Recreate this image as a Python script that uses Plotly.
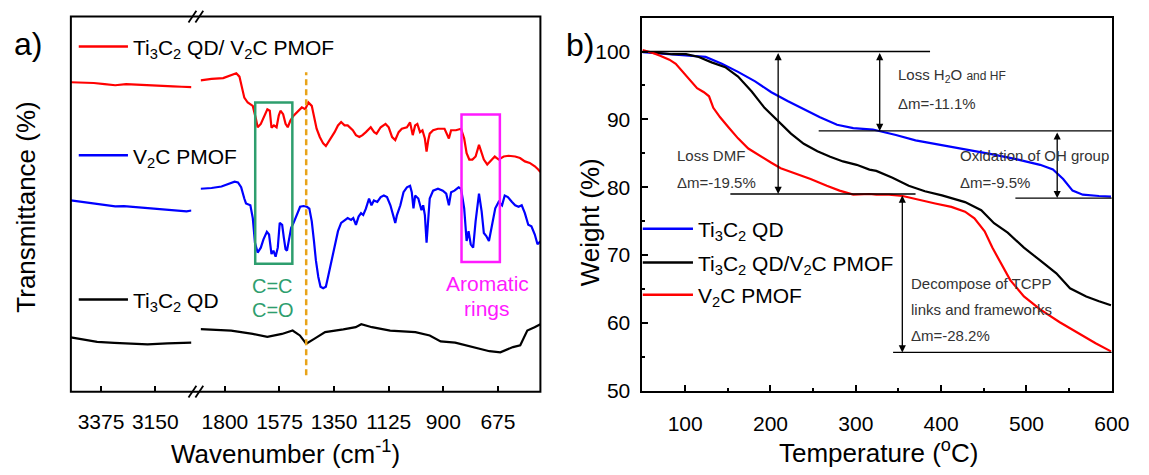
import plotly.graph_objects as go

W_PX, H_PX = 1149, 475
FONT = "Arial, 'Liberation Sans', sans-serif"

# ---------------- Panel a: FTIR (arbitrary transmittance units) ----------------
red_wn_l = [3500, 3450, 3405, 3360, 3316, 3271, 3220, 3152, 3110, 3077, 3040, 3000]
red_t_l = [82.5, 82.4, 82.3, 82.0, 81.7, 82.0, 81.8, 81.7, 81.5, 81.4, 81.3, 81.2]
red_wn_r = [1900, 1855, 1807, 1773, 1753, 1740, 1733, 1720, 1706, 1685, 1672, 1665, 1652, 1638, 1625, 1615,
            1608, 1598, 1587, 1578, 1571, 1560, 1550, 1541, 1530, 1517, 1503, 1483, 1469, 1456, 1442, 1433,
            1422, 1409, 1395, 1384, 1368, 1348, 1334, 1321, 1307, 1294, 1273, 1260, 1246, 1233, 1219, 1206,
            1199, 1185, 1175, 1158, 1138, 1125, 1111, 1098, 1084, 1071, 1050, 1037, 1026, 1016, 1007, 996,
            986, 976, 969, 962, 956, 942, 922, 895, 877, 868, 848, 827, 814, 804, 793, 780, 767, 753, 742,
            733, 719, 706, 688, 672, 651, 631, 604, 584, 564, 544, 523, 510, 500]
red_t_r = [83.0, 83.4, 83.6, 84.4, 84.9, 84.0, 81.8, 78.4, 77.1, 76.2, 72.7, 70.5, 71.4, 73.6, 75.3, 74.9,
           70.4, 71.0, 70.5, 73.6, 74.9, 74.0, 71.4, 70.5, 72.3, 73.6, 74.5, 75.8, 75.3, 77.1, 76.2, 73.1,
           70.1, 67.9, 66.2, 65.5, 67.1, 69.2, 71.0, 71.9, 71.0, 71.0, 69.7, 68.4, 67.9, 68.4, 69.2, 70.1,
           70.5, 69.2, 68.8, 70.5, 71.4, 70.5, 67.9, 67.1, 69.2, 70.1, 70.5, 71.8, 68.4, 71.0, 71.4, 69.2,
           69.7, 67.5, 64.0, 67.1, 68.8, 69.7, 70.1, 70.1, 67.5, 69.7, 69.7, 70.1, 67.5, 63.6, 61.9, 61.9,
           62.7, 65.8, 63.6, 61.9, 60.6, 61.4, 62.7, 61.9, 62.7, 62.9, 62.7, 62.3, 61.4, 61.0, 60.1, 59.3, 58.6]

blue_wn_l = [3500, 3450, 3400, 3350, 3316, 3280, 3230, 3180, 3120, 3060, 3020, 3000]
blue_t_l = [51.0, 50.6, 50.2, 49.6, 49.4, 49.5, 49.2, 48.9, 48.6, 48.2, 48.1, 48.3]
blue_wn_r = [1900, 1855, 1814, 1787, 1760, 1746, 1733, 1720, 1713, 1695,
             1685, 1676, 1665, 1652, 1641, 1627, 1618, 1608, 1600, 1591,
             1582, 1574, 1564, 1557, 1550, 1544, 1537, 1527, 1517, 1503,
             1490, 1476, 1462, 1452, 1442, 1433, 1425, 1415, 1406, 1395,
             1384, 1375, 1361, 1348, 1334, 1321, 1307, 1294, 1280, 1271,
             1260, 1249, 1239, 1230, 1219, 1206, 1196, 1186, 1172, 1158,
             1145, 1132, 1118, 1104, 1098, 1091, 1077, 1064, 1050, 1037,
             1030, 1023, 1016, 1003, 990, 983, 976, 969, 962, 956,
             942, 922, 902, 888, 877, 868, 854, 837, 827, 814,
             804, 796, 787, 777, 767, 753, 742, 733, 723, 712,
             699, 686, 672, 658, 647, 634, 617, 604, 590, 577,
             564, 550, 537, 523, 512, 500]
blue_t_r = [54.1, 54.3, 54.7, 55.4, 56.0, 55.8, 54.5, 51.5, 50.2, 49.7,
            46.3, 39.7, 37.1, 38.4, 40.6, 42.6, 41.9, 36.7, 37.6, 36.0,
            38.4, 45.0, 44.5, 41.0, 38.0, 37.6, 40.2, 43.7, 45.0, 47.1,
            49.3, 49.5, 49.3, 48.8, 45.4, 40.2, 35.0, 30.6, 28.0, 27.6,
            28.0, 30.6, 35.0, 38.4, 42.8, 45.0, 45.8, 46.3, 45.8, 46.3,
            44.5, 46.7, 47.6, 47.1, 48.8, 51.5, 49.7, 51.0, 50.6, 51.9,
            52.3, 51.9, 49.7, 45.8, 45.0, 47.1, 49.7, 53.2, 54.5, 54.9,
            53.2, 48.9, 52.3, 51.5, 48.4, 49.7, 47.1, 39.7, 47.1, 51.5,
            53.6, 54.1, 53.6, 52.8, 49.7, 53.2, 53.6, 54.5, 54.1, 48.9,
            40.2, 42.8, 39.3, 38.4, 45.4, 52.8, 48.0, 42.3, 41.5, 40.2,
            44.5, 48.9, 50.6, 49.7, 52.3, 51.9, 50.6, 49.7, 49.3, 49.7,
            47.6, 44.5, 44.1, 41.9, 39.3, 40.1]

black_wn_l = [3500, 3450, 3391, 3320, 3250, 3182, 3100, 3040, 3000]
black_t_l = [14.5, 13.9, 13.3, 13.0, 12.8, 12.6, 12.9, 13.1, 13.1]
black_wn_r = [1900, 1774, 1685, 1625, 1565, 1521, 1491, 1465, 1432, 1387, 1312, 1261, 1238, 1194, 1119,
              1015, 956, 911, 851, 777, 710, 665, 613, 583, 554, 524, 500]
black_t_r = [16.7, 16.3, 15.4, 14.6, 15.4, 16.3, 15.0, 12.8, 14.1, 15.9, 16.6, 17.2, 18.0, 17.2, 16.3,
             15.9, 15.0, 13.4, 13.1, 11.9, 10.8, 10.5, 11.9, 12.4, 16.3, 17.2, 18.0]

ftir_ticks_l = [3375, 3150]
ftir_ticks_r = [1800, 1575, 1350, 1125, 900, 675]

# ---------------- Panel b: TGA ----------------
tga_blue_T = [50, 85, 108, 124, 143, 162, 182, 201, 220, 239, 258, 278, 297, 320, 347, 370, 401, 431, 462,
              489, 516, 531, 543, 554, 566, 585, 599]
tga_blue_W = [99.9, 99.6, 99.4, 99.2, 98.2, 97.0, 95.6, 94.0, 92.7, 91.5, 90.3, 89.2, 88.7, 88.5, 87.7, 86.9,
              86.2, 85.5, 84.8, 84.1, 83.3, 82.6, 81.2, 79.5, 78.9, 78.7, 78.6]
tga_black_T = [50, 70, 85, 101, 116, 131, 147, 162, 178, 193, 208, 224, 239, 255, 270, 285, 301, 316, 324,
               343, 362, 381, 401, 428, 447, 462, 478, 497, 516, 535, 551, 570, 585, 599]
tga_black_W = [100.0, 99.8, 99.6, 99.6, 99.2, 98.4, 97.7, 96.3, 94.1, 91.7, 89.8, 87.9, 86.4, 85.3, 84.5,
               83.8, 83.3, 82.6, 82.4, 81.4, 80.2, 79.4, 78.8, 77.8, 76.6, 74.7, 73.3, 71.1, 69.2, 67.3,
               65.1, 63.9, 63.2, 62.6]
tga_red_T = [50, 62, 70, 81.5, 89, 97, 105, 114, 122, 128, 133, 141, 151, 162, 174, 185, 201, 212, 228, 247,
             266, 281, 297, 316, 324, 339, 355, 374, 393, 412, 428, 439, 451, 460, 470, 481, 497, 516, 539,
             562, 581, 599]
tga_red_W = [100.2, 99.8, 99.4, 98.8, 98.2, 97.0, 95.8, 94.6, 94.0, 93.4, 91.7, 90.3, 88.8, 87.2, 85.7, 84.8,
             83.6, 82.8, 82.1, 81.2, 80.2, 79.5, 78.9, 79.0, 78.9, 78.9, 78.7, 78.1, 77.6, 77.1, 76.4, 75.4,
             73.5, 71.1, 68.7, 66.3, 63.9, 62.0, 60.1, 58.4, 57.0, 55.8]

# step levels (weight %) and the temperatures of the guide arrows
lvl_top, lvl_dmf, lvl_oh, lvl_blue_end, lvl_red_end = 100.0, 79.0, 88.3, 78.4, 55.65
arrow_T = {"dmf": 209, "h2o": 328, "oh": 536, "tcpp": 354.5}


def fx(x):
    return x / W_PX


def fy(y):
    return 1 - y / H_PX


fig = go.Figure()

LW = 2.2
for wn, t, col, xa in [(red_wn_l, red_t_l, "#ff0000", "x"), (red_wn_r, red_t_r, "#ff0000", "x2"),
                       (blue_wn_l, blue_t_l, "#0000ff", "x"), (blue_wn_r, blue_t_r, "#0000ff", "x2"),
                       (black_wn_l, black_t_l, "#000000", "x"), (black_wn_r, black_t_r, "#000000", "x2")]:
    fig.add_trace(go.Scatter(x=wn, y=t, mode="lines", xaxis=xa, yaxis="y",
                             line=dict(color=col, width=LW), showlegend=False, hoverinfo="skip"))

for T, Wt, col in [(tga_blue_T, tga_blue_W, "#0000ff"), (tga_black_T, tga_black_W, "#000000"),
                   (tga_red_T, tga_red_W, "#ff0000")]:
    fig.add_trace(go.Scatter(x=T, y=Wt, mode="lines", xaxis="x3", yaxis="y3",
                             line=dict(color=col, width=LW), showlegend=False, hoverinfo="skip"))

tickfont = dict(family=FONT, size=21, color="#000")
common_x = dict(showgrid=False, zeroline=False, ticks="inside", ticklen=6, tickwidth=2,
                tickcolor="#000", tickfont=tickfont, fixedrange=True)

shapes = []
annotations = []


def paper_text(txt, x, y, size, angle=0, xanchor="center", color="#000"):
    return dict(text=txt, x=fx(x), y=fy(y), xref="paper", yref="paper", showarrow=False,
                xanchor=xanchor, yanchor="middle", textangle=angle,
                font=dict(family=FONT, size=size, color=color))


# ---- panel a frame, break marks ----
a_l, a_r, a_t, a_b = 72, 549, 17, 401
shapes.append(dict(type="rect", xref="paper", yref="paper", x0=fx(a_l), x1=fx(a_r), y0=fy(a_b), y1=fy(a_t),
                   line=dict(color="#000", width=2)))
for yb in (a_t, a_b):
    for dx in (0, 7):
        shapes.append(dict(type="line", xref="paper", yref="paper",
                           x0=fx(191.5 + dx), y0=fy(yb + 6), x1=fx(199.5 + dx), y1=fy(yb - 6),
                           line=dict(color="#000", width=1.8)))

# highlight boxes and dashed line (data coords of right segment)
shapes.append(dict(type="rect", xref="x2", yref="y", x0=1675, x1=1522, y0=34.1, y1=77.1,
                   line=dict(color="#2e9e6e", width=2.5)))
shapes.append(dict(type="rect", xref="x2", yref="y", x0=825, x1=667, y0=34.6, y1=73.9,
                   line=dict(color="#ff1aff", width=2.5)))
shapes.append(dict(type="line", xref="x2", yref="y", x0=1465, x1=1465, y0=4.4, y1=85.2,
                   line=dict(color="#e8a317", width=2.5, dash="6px,4px")))

for txt, xv, yv, col, sz in [("C=C", 1603, 28.1, "#2e9e6e", 20), ("C=O", 1603, 21.9, "#2e9e6e", 20),
                             ("Aromatic", 719, 28.9, "#ff1aff", 21), ("rings", 719, 22.1, "#ff1aff", 21)]:
    annotations.append(dict(text=txt, x=xv, y=yv, xref="x2", yref="y", showarrow=False,
                            xanchor="center", yanchor="middle", font=dict(family=FONT, size=sz, color=col)))

# panel a legend-like labels
for ypix, col, txt in [(47.7, "#ff0000", "Ti<sub>3</sub>C<sub>2</sub> QD/ V<sub>2</sub>C PMOF"),
                       (159, "#0000ff", "V<sub>2</sub>C PMOF"),
                       (306.7, "#000000", "Ti<sub>3</sub>C<sub>2</sub> QD")]:
    shapes.append(dict(type="line", xref="paper", yref="paper", x0=fx(80), x1=fx(130), y0=fy(ypix),
                       y1=fy(ypix), line=dict(color=col, width=2.5)))
    annotations.append(paper_text(txt, 133, ypix + 2.5, 21, xanchor="left"))

# panel b legend
for ypix, col, txt in [(234.3, "#0000ff", "Ti<sub>3</sub>C<sub>2</sub> QD"),
                       (268.7, "#000000", "Ti<sub>3</sub>C<sub>2</sub> QD/V<sub>2</sub>C PMOF"),
                       (301.7, "#ff0000", "V<sub>2</sub>C PMOF")]:
    shapes.append(dict(type="line", xref="paper", yref="paper", x0=fx(653), x1=fx(704), y0=fy(ypix),
                       y1=fy(ypix), line=dict(color=col, width=2.5)))
    annotations.append(paper_text(txt, 707, ypix + 2.5, 21, xanchor="left"))

# panel b guide lines
for x0, x1, yv in [(50, 387, lvl_top), (153, 370, lvl_dmf), (256.5, 600, lvl_oh),
                   (487, 600, lvl_blue_end), (343.7, 600, lvl_red_end)]:
    shapes.append(dict(type="line", xref="x3", yref="y3", x0=x0, x1=x1, y0=yv, y1=yv,
                       line=dict(color="#000", width=1.3)))

for T, y_from, y_to in [(arrow_T["dmf"], lvl_top, lvl_dmf), (arrow_T["h2o"], lvl_top, lvl_oh),
                        (arrow_T["oh"], lvl_oh, lvl_blue_end), (arrow_T["tcpp"], lvl_dmf, lvl_red_end)]:
    annotations.append(dict(text="", x=T, y=y_to, ax=T, ay=y_from, xref="x3", yref="y3", axref="x3",
                            ayref="y3", showarrow=True, arrowhead=2, startarrowhead=2,
                            arrowside="end+start", arrowsize=1.1, startarrowsize=1.1,
                            arrowwidth=1.3, arrowcolor="#000", standoff=0, startstandoff=0))

tga_font = dict(family=FONT, size=15, color="#333")
for txt, T, Wv in [("Loss H<sub>2</sub>O <span style='font-size:12px'>and HF</span>", 347.6, 96.5),
                   ("Δm=-11.1%", 347.6, 92.4),
                   ("Loss DMF", 88.4, 84.6), ("Δm=-19.5%", 88.4, 80.7),
                   ("Oxidation of OH group", 419.8, 84.6), ("Δm=-9.5%", 419.8, 80.7),
                   ("Decompose of TCPP", 362.1, 65.8), ("links and frameworks", 362.1, 62.0),
                   ("Δm=-28.2%", 362.1, 58.1)]:
    annotations.append(dict(text=txt, x=T, y=Wv, xref="x3", yref="y3", xanchor="left", yanchor="middle",
                            showarrow=False, font=tga_font))

# titles and panel labels
annotations += [
    paper_text("a)", 28, 45, 32),
    paper_text("b)", 589, 46, 32),
    paper_text("Transmittance (%)", 26, 212, 26, angle=-90),
    paper_text("Wavenumber (cm<sup>-1</sup>)", 290, 463, 26),
    paper_text("Weight (%)", 599, 228, 26, angle=-90),
    paper_text("Temperature (<sup>o</sup>C)", 892, 462, 26),
]

fig.update_layout(
    width=W_PX, height=H_PX, margin=dict(l=0, r=0, t=0, b=0),
    paper_bgcolor="white", plot_bgcolor="white", showlegend=False,
    font=dict(family=FONT, color="#000"),
    xaxis=dict(domain=[fx(72), fx(194.5)], range=[3500, 3000], anchor="y", tickmode="array",
               tickvals=ftir_ticks_l, ticklabelstandoff=15, **common_x),
    xaxis2=dict(domain=[fx(203.8), fx(549)], range=[1900, 500], anchor="y", tickmode="array",
                tickvals=ftir_ticks_r, ticklabelstandoff=15, **common_x),
    yaxis=dict(domain=[fy(a_b), fy(a_t)], range=[0, 100], anchor="x", showticklabels=False,
               showgrid=False, zeroline=False, showline=False, ticks="", fixedrange=True),
    xaxis3=dict(domain=[fx(652.7), fx(1129.5)], range=[50, 600], anchor="y3", tick0=0, dtick=100,
                showline=True, mirror=True, linecolor="#000", linewidth=2, ticklabelstandoff=13,
                minor=dict(ticks="inside", ticklen=3, tickwidth=2, dtick=50, tick0=0, tickcolor="#000"),
                **common_x),
    yaxis3=dict(domain=[fy(400), fy(18)], range=[50, 105], anchor="x3", tick0=50, dtick=10,
                showline=True, mirror=True, linecolor="#000", linewidth=2, ticklabelstandoff=6,
                minor=dict(ticks="inside", ticklen=3, tickwidth=2, dtick=5, tick0=50, tickcolor="#000"),
                **common_x),
    shapes=shapes, annotations=annotations,
)

fig.write_html("out.html")
